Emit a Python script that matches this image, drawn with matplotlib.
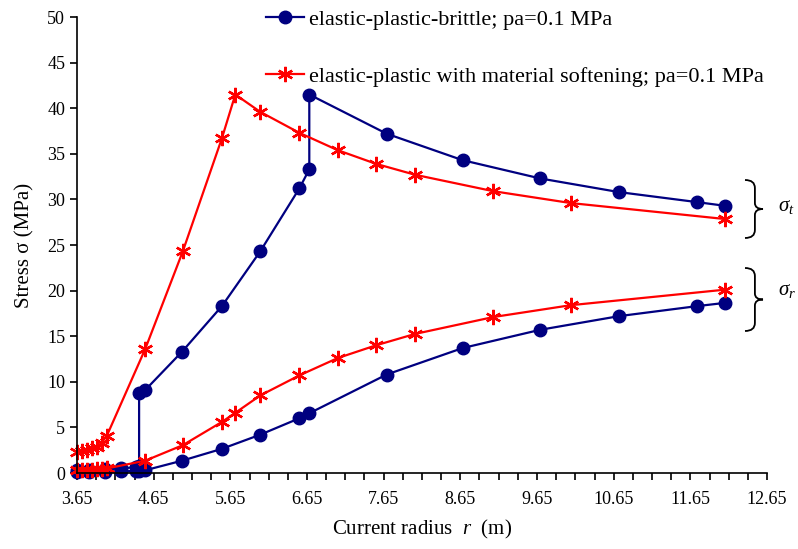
import matplotlib
matplotlib.use("Agg")
import matplotlib.pyplot as plt
from matplotlib.path import Path
from matplotlib.patches import PathPatch
import numpy as np

plt.rcParams['font.family'] = ['Liberation Serif', 'DejaVu Serif']
plt.rcParams['mathtext.fontset'] = 'custom'
plt.rcParams['mathtext.rm'] = 'Liberation Serif'
plt.rcParams['mathtext.it'] = 'Liberation Serif:italic'

# ---- data ----
# elastic-plastic-brittle: tangential stress
b_t_r = [3.65, 3.81, 4.02, 4.23, 4.42, 4.46, 4.46, 4.54, 5.02, 5.54, 6.04, 6.55, 6.68, 6.68,
         7.69, 8.68, 9.69, 10.72, 11.74, 12.10]
b_t_s = [0.30, 0.35, 0.40, 0.50, 0.65, 0.75, 8.80, 9.10, 13.30, 18.30, 24.30, 31.20, 33.30, 41.50,
         37.20, 34.30, 32.30, 30.80, 29.70, 29.30]
# elastic-plastic-brittle: radial stress
b_r_r = [3.65, 3.81, 4.02, 4.23, 4.42, 4.46, 4.54, 5.02, 5.54, 6.04, 6.55, 6.68,
         7.69, 8.68, 9.69, 10.72, 11.74, 12.10]
b_r_s = [0.10, 0.12, 0.15, 0.18, 0.22, 0.25, 0.30, 1.35, 2.65, 4.20, 6.00, 6.55,
         10.80, 13.70, 15.70, 17.20, 18.30, 18.65]
# elastic-plastic with softening: tangential stress
s_t_r = [3.65, 3.71, 3.78, 3.84, 3.91, 3.97, 4.04, 4.54, 5.03, 5.54, 5.715, 6.04, 6.55, 7.05,
         7.55, 8.06, 9.08, 10.09, 12.10]
s_t_s = [2.30, 2.40, 2.55, 2.70, 2.90, 3.30, 4.10, 13.60, 24.30, 36.70, 41.50, 39.60, 37.30, 35.40,
         33.90, 32.70, 30.90, 29.60, 27.85]
# elastic-plastic with softening: radial stress
s_r_r = [3.65, 3.71, 3.78, 3.84, 3.91, 3.97, 4.04, 4.54, 5.03, 5.54, 5.715, 6.04, 6.55, 7.05,
         7.55, 8.06, 9.08, 10.09, 12.10]
s_r_s = [0.30, 0.32, 0.35, 0.38, 0.42, 0.46, 0.50, 1.35, 3.05, 5.60, 6.60, 8.50, 10.70, 12.60,
         14.00, 15.25, 17.10, 18.40, 20.10]

x_ticks = [3.65, 4.65, 5.65, 6.65, 7.65, 8.65, 9.65, 10.65, 11.65, 12.65]
y_ticks = [0, 5, 10, 15, 20, 25, 30, 35, 40, 45, 50]
labels = ["elastic-plastic-brittle; pa=0.1 MPa",
          "elastic-plastic with material softening; pa=0.1 MPa"]

BLUE = '#000080'
RED = '#ff0000'

fig = plt.figure(figsize=(7.98, 5.49), dpi=100)
ax = fig.add_axes([77/798, 76/549, 690/798, 456/549])

bkw = dict(color=BLUE, lw=1.6, marker='o', ms=9, mfc=BLUE, mec=BLUE, clip_on=False)
rkw = dict(color=RED, lw=1.6, marker=(6, 2, 0), ms=11, mew=1.7, mec=RED, clip_on=False)

ax.plot(b_t_r, b_t_s, label=labels[0], **bkw)
ax.plot(b_r_r, b_r_s, **bkw)
ax.plot(s_t_r, s_t_s, label=labels[1], **rkw)
ax.plot(s_r_r, s_r_s, **rkw)

ax.set_xlim(3.65, 12.65)
ax.set_ylim(0, 50)
ax.set_xticks(x_ticks)
ax.set_xticklabels([f"{v:.2f}" for v in x_ticks])
ax.set_xticks(np.arange(3.65, 12.66, 0.25), minor=True)
ax.set_yticks(y_ticks)
ax.tick_params(axis='both', which='both', direction='out', length=5, width=1.2, labelsize=13)
ax.tick_params(axis='x', pad=8)
for s in ['top', 'right']:
    ax.spines[s].set_visible(False)
for s in ['left', 'bottom']:
    ax.spines[s].set_linewidth(1.2)

ax.set_xlabel("Current radius  $r$  (m)", fontsize=15, labelpad=7)
ax.set_ylabel("Stress σ (MPa)", fontsize=15, labelpad=9)

leg = ax.legend(loc='upper left', bbox_to_anchor=(266/798, 1.0 - 9/549), bbox_transform=fig.transFigure,
                frameon=False, fontsize=16, labelspacing=1.65, handlelength=1.7, handletextpad=0.25,
                borderaxespad=0, borderpad=0)

# curly braces (annotations, figure pixel coords)
def brace(x0, ytop, ybot, w):
    ym = (ytop + ybot) / 2
    xm = x0 + w * 0.55
    verts = [(x0, ytop), (xm, ytop), (xm, ytop + 8), (xm, ym - 6), (xm, ym), (x0 + w, ym),
             (xm, ym), (xm, ym + 6), (xm, ybot - 8), (xm, ybot), (x0, ybot)]
    codes = [Path.MOVETO, Path.CURVE3, Path.CURVE3, Path.LINETO, Path.CURVE3, Path.CURVE3,
             Path.CURVE3, Path.CURVE3, Path.LINETO, Path.CURVE3, Path.CURVE3]
    verts = [(vx, 549 - vy) for vx, vy in verts]
    p = PathPatch(Path(verts, codes), transform=None, fill=False, lw=1.3, ec='black')
    fig.patches.append(p)

brace(745, 180, 238, 18)
brace(745, 268, 331, 18)
fig.text(778/798, 1 - 207/549, r"$\sigma_t$", fontsize=15, va='center', ha='left')
fig.text(778/798, 1 - 291/549, r"$\sigma_r$", fontsize=15, va='center', ha='left')

fig.savefig("out.png", dpi=100)
